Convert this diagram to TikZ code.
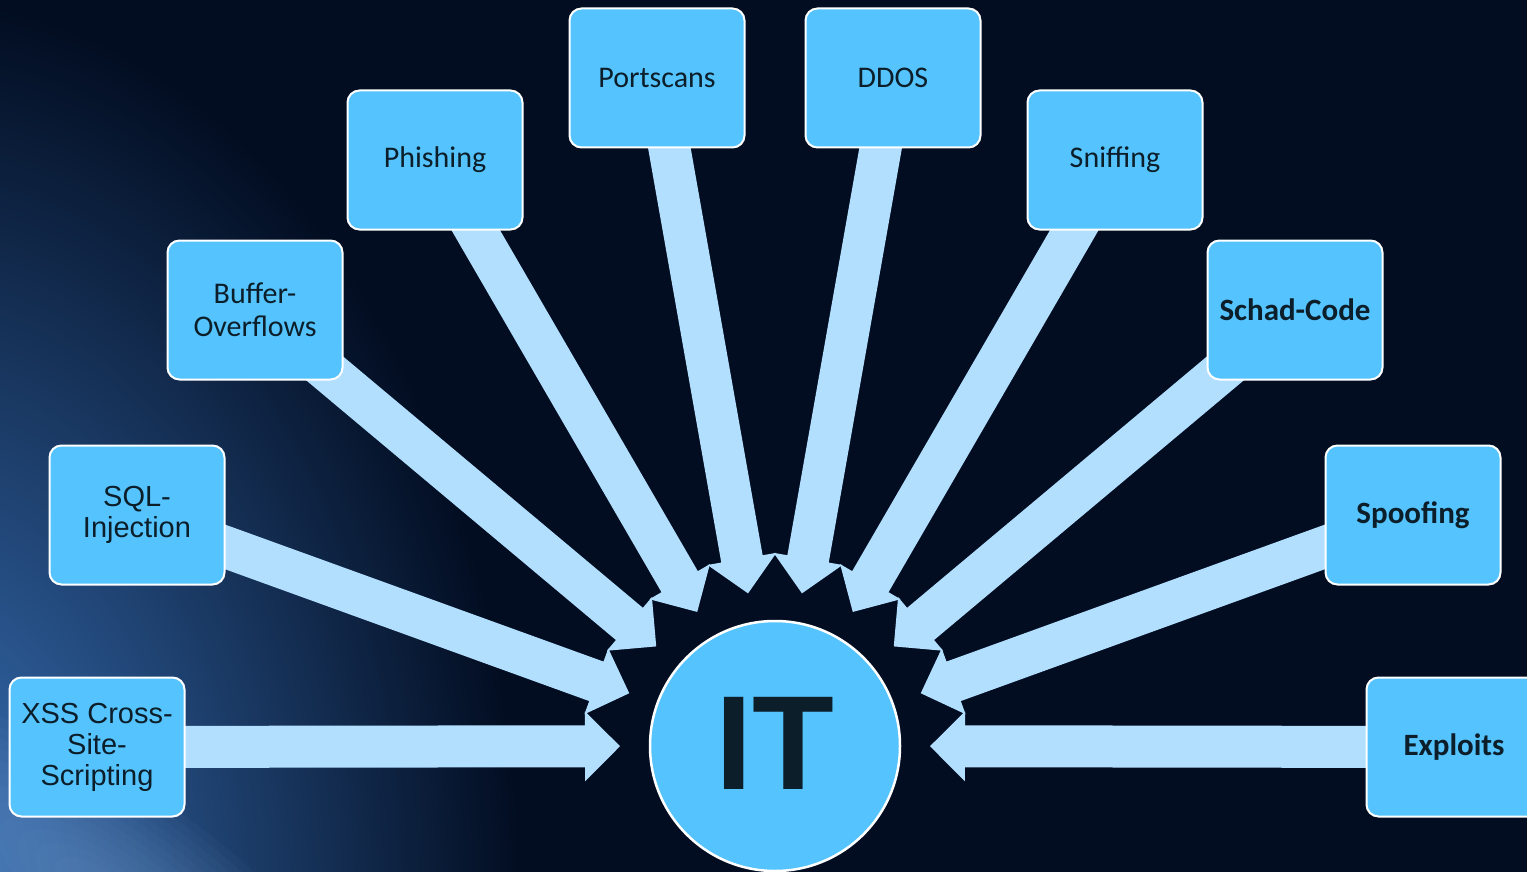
\documentclass[tikz,border=0pt]{standalone}
\usepackage{fontspec}
\setmainfont{Carlito}
\newfontfamily\arialfont{Liberation Sans}
\usetikzlibrary{calc}

\definecolor{bgnavy}{HTML}{020D21}
\definecolor{boxblue}{HTML}{55C3FD}
\definecolor{arrowblue}{HTML}{B3DFFF}
\definecolor{inkdark}{HTML}{0B1E29}
\definecolor{glowblue}{HTML}{3A74BC}
\definecolor{glowpale}{HTML}{7FA8D8}

\pgfdeclarelayer{backdrop}
\pgfdeclarelayer{arrowlayer}
\pgfsetlayers{backdrop,arrowlayer,main}

\tikzset{
  topic/.style={draw=white, line width=2pt, fill=boxblue, rounded corners=12pt,
    minimum width=175pt, minimum height=139pt, inner sep=2pt, align=center,
    text=inkdark, font=\fontsize{30}{33}\selectfont},
  topicbold/.style={topic, font=\fontsize{31}{33}\selectfont\bfseries},
  topicarial/.style={topic, font=\arialfont\fontsize{29}{31}\selectfont},
  hub/.style={circle, draw=white, line width=2.5pt, fill=boxblue,
    minimum size=250pt, inner sep=0pt, text=inkdark,
    font=\arialfont\bfseries\fontsize{134}{134}\selectfont,
    text height=96pt, text depth=10pt},
  blockfill/.style={fill=arrowblue},
}

% block arrow from the centre of node #1 towards node #2,
% tip stopping 155pt from the centre of #2
\newcommand\feedarrow[2]{%
  \path ($(#2.center)!155pt!(#1.center)$) coordinate (tip-#1)
        ($(tip-#1)!35pt!(#1.center)$) coordinate (base-#1);
  \fill[blockfill]
    ($(#1.center)!21pt!90:(tip-#1)$) --
    ($(base-#1)!21pt!-90:(#1.center)$) --
    ($(base-#1)!35pt!-90:(#1.center)$) --
    (tip-#1) --
    ($(base-#1)!35pt!90:(#1.center)$) --
    ($(base-#1)!21pt!90:(#1.center)$) --
    ($(#1.center)!21pt!-90:(tip-#1)$) -- cycle;
}

\begin{document}
\begin{tikzpicture}[x=1pt, y=-1pt]
  \useasboundingbox (0,0) rectangle (1527,872);

  % backdrop with a blue glow in the lower left corner
  \begin{pgfonlayer}{backdrop}
    \fill[bgnavy] (0,0) rectangle (1527,872);
    \begin{scope}
      \clip (0,0) rectangle (1527,872);
      \shade[inner color=glowblue, outer color=bgnavy] (-80,900) ellipse (600 and 900);
      % pale streak: stacked translucent ellipses give a soft falloff
      \foreach \k in {1,...,14}
        \fill[glowpale, opacity=0.045, rotate around={-35:(110,900)}]
          (110,900) ellipse ({22*\k} and {8*\k});
    \end{scope}
  \end{pgfonlayer}

  % centre
  \node[hub] (it) at (775,746) {IT};

  % surrounding topics
  \node[topicarial] (xss)   at (97,747)   {XSS Cross-\\Site-\\Scripting};
  \node[topicarial] (sql)   at (137,515)  {SQL-\\Injection};
  \node[topic]      (buf)   at (255,310)  {Buffer-\\Overflows};
  \node[topic]      (phish) at (435,160)  {Phishing};
  \node[topic]      (port)  at (657,78)   {Portscans};
  \node[topic]      (ddos)  at (893,78)   {DDOS};
  \node[topic]      (sniff) at (1115,160) {Sniffing};
  \node[topicbold]  (schad) at (1295,310) {Schad-Code};
  \node[topicbold]  (spoof) at (1413,515) {Spoofing};
  \node[topicbold]  (expl)  at (1454,747) {Exploits};

  % arrows into the centre
  \begin{pgfonlayer}{arrowlayer}
    \feedarrow{xss}{it}
    \feedarrow{sql}{it}
    \feedarrow{buf}{it}
    \feedarrow{phish}{it}
    \feedarrow{port}{it}
    \feedarrow{ddos}{it}
    \feedarrow{sniff}{it}
    \feedarrow{schad}{it}
    \feedarrow{spoof}{it}
    \feedarrow{expl}{it}
  \end{pgfonlayer}
\end{tikzpicture}
\end{document}
